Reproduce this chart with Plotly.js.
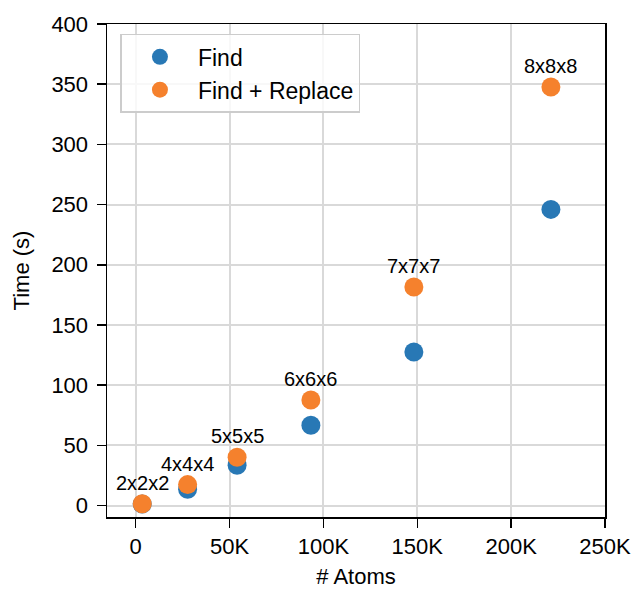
<!DOCTYPE html>
<html><head><meta charset="utf-8">
<script src="https://cdn.plot.ly/plotly-3.0.1.min.js"></script>
<style>html,body{margin:0;padding:0;background:#fff}#chart{width:636px;height:589px}</style>
</head><body><div id="chart"></div>
<script>
const sizes = ["2x2x2","4x4x4","5x5x5","6x6x6","7x7x7","8x8x8"];
const atoms = [3456, 27648, 54000, 93312, 148176, 221184];
const findTime = [1.2, 13.5, 33.5, 66.7, 127.6, 246];
const replaceTime = [1.5, 17.4, 40.1, 87.7, 181.6, 347.7];
const xTickVals = [0, 50000, 100000, 150000, 200000, 250000];
const xTickText = ["0","50K","100K","150K","200K","250K"];
const yTickVals = [0, 50, 100, 150, 200, 250, 300, 350, 400];

const font = "Liberation Sans, Arial, sans-serif";
const traces = [
  {x: atoms, y: findTime, mode: "markers", type: "scatter", name: "Find",
   marker: {color: "#2878b5", size: 19}},
  {x: atoms, y: replaceTime, mode: "markers", type: "scatter", name: "Find + Replace",
   marker: {color: "#f5812d", size: 19}}
];
const annotations = sizes.map((s, i) => ({
  x: atoms[i], y: replaceTime[i], text: s, showarrow: false,
  yanchor: "bottom", yshift: 8, font: {family: font, size: 20, color: "#000"}
}));
const axisCommon = {
  showline: true, linecolor: "#000", linewidth: 1.5, mirror: true,
  ticks: "outside", ticklen: 9, tickwidth: 1.5, tickcolor: "#000",
  showgrid: true, gridcolor: "#d9d9d9", gridwidth: 2, zeroline: false,
  tickfont: {family: font, size: 22, color: "#000"}
};
const layout = {
  width: 636, height: 589,
  margin: {l: 107, r: 31, t: 24, b: 72},
  paper_bgcolor: "#fff", plot_bgcolor: "#fff",
  showlegend: true,
  legend: {x: 0.027, y: 0.98, xanchor: "left", yanchor: "top",
    bgcolor: "rgba(255,255,255,0.8)", bordercolor: "#cccccc", borderwidth: 1.5,
    font: {family: font, size: 23, color: "#000"}, itemwidth: 66},
  xaxis: Object.assign({}, axisCommon, {
    range: [-15300, 250000], tickvals: xTickVals, ticktext: xTickText,
    title: {text: "# Atoms", font: {family: font, size: 22, color: "#000"}, standoff: 10}
  }),
  yaxis: Object.assign({}, axisCommon, {
    range: [-9.5, 400], tickvals: yTickVals, ticklabelstandoff: 4,
    title: {text: "Time (s)", font: {family: font, size: 22, color: "#000"}, standoff: 15}
  }),
  annotations: annotations
};
Plotly.newPlot("chart", traces, layout, {displayModeBar: false, staticPlot: true});
</script></body></html>
